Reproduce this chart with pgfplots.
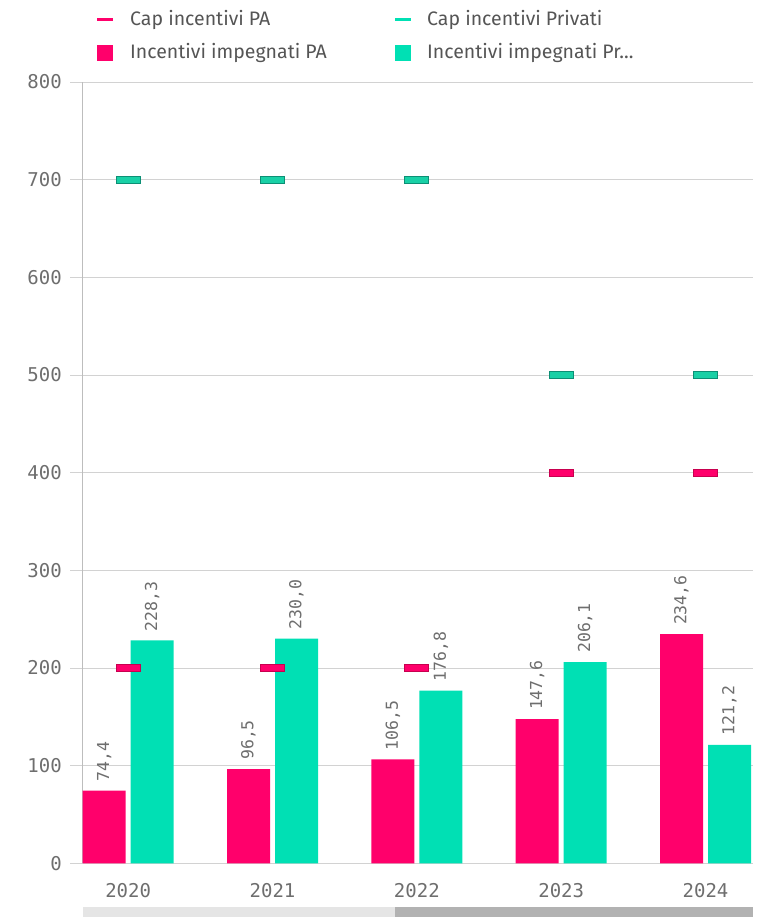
\documentclass[border=0pt]{standalone}
\usepackage{fontspec}
\usepackage{pgfplots}
\pgfplotsset{compat=1.18}
\usepackage{pgfplotstable}
\setmainfont{Fira Sans}
\newfontfamily\monof{DejaVu Sans Mono}

\definecolor{pa}{HTML}{FF006B}
\definecolor{pv}{HTML}{00E0B4}
\definecolor{paedge}{HTML}{C8004F}
\definecolor{pvedge}{HTML}{0C8F75}
\definecolor{capfillpv}{HTML}{19D0A6}
\definecolor{gridc}{HTML}{D2D2D2}
\definecolor{axisc}{HTML}{BDBDBD}
\definecolor{ticktext}{HTML}{6E6E6E}
\definecolor{legtext}{HTML}{555555}

% cap marker: short flat bar, 24 x 7 px
\pgfdeclareplotmark{cap}{%
  \pgfpathrectangle{\pgfpoint{-12bp}{-3.5bp}}{\pgfpoint{24bp}{7bp}}%
  \pgfusepathqfillstroke}

\pgfplotstableread{
x   pa    pv    palab  pvlab
0   74.4  228.3 74,4   228,3
1   96.5  230.0 96,5   230,0
2   106.5 176.8 106,5  176,8
3   147.6 206.1 147,6  206,1
4   234.6 121.2 234,6  121,2
}\impegnati

\pgfplotstableread{
x  capa  capv
0  200   700
1  200   700
2  200   700
3  400   500
4  400   500
}\caps

\pgfplotsset{barlab/.style={
  point meta=explicit symbolic,
  nodes near coords,
  every node near coord/.append style={xshift=#1, rotate=90, anchor=west,
    font=\monof\fontsize{16.5bp}{19bp}\selectfont, text=ticktext,
    inner xsep=9bp, inner ysep=0pt}}}

\begin{document}
\begin{tikzpicture}[x=1bp,y=1bp]
\path[use as bounding box] (0,0) rectangle (764,917);

\begin{axis}[
  at={(82bp,53.7bp)}, anchor=south west,
  scale only axis,
  width=671bp, height=781.3bp,
  xmin=-0.32, xmax=4.329,
  ymin=0, ymax=800,
  ytick={0,100,...,800},
  xtick={0,1,2,3,4},
  xticklabels={2020,2021,2022,2023,2024},
  axis x line*=bottom, axis y line*=left,
  x axis line style={draw=none},
  y axis line style={draw=axisc, line width=0.8bp},
  ymajorgrids,
  grid style={draw=gridc, line width=0.8bp},
  tick align=outside,
  major tick length=12bp,
  xtick style={draw=none},
  ytick style={draw=gridc, line width=0.8bp},
  /pgf/number format/assume math mode=true,
  ticklabel style={font=\monof\fontsize{19bp}{22bp}\selectfont, text=ticktext, inner sep=0pt},
  yticklabel style={xshift=-8bp},
  xticklabel style={yshift=-8bp},
  clip=false,
]

\addplot[ybar, bar width=43bp, bar shift=-24bp, fill=pa, draw=none, barlab=-24bp]
  table[x=x, y=pa, meta=palab] {\impegnati};

\addplot[ybar, bar width=43bp, bar shift=24bp, fill=pv, draw=none, barlab=24bp]
  table[x=x, y=pv, meta=pvlab] {\impegnati};

\addplot[only marks, mark=cap, mark options={fill=pa, draw=paedge, line width=0.8bp}]
  table[x=x, y=capa] {\caps};
\addplot[only marks, mark=cap, mark options={fill=capfillpv, draw=pvedge, line width=0.8bp}]
  table[x=x, y=capv] {\caps};

\end{axis}

% legend
\begin{scope}[font=\fontsize{19.5bp}{23bp}\selectfont]
  \fill[pa] (97,895.5) rectangle (113,898.5);
  \node[anchor=west, inner sep=0pt, text=legtext] at (130,897) {Cap incentivi PA};
  \fill[pv] (395,895.5) rectangle (411,898.5);
  \node[anchor=west, inner sep=0pt, text=legtext] at (427,897) {Cap incentivi Privati};
  \fill[pa] (97,856) rectangle (113,872);
  \node[anchor=west, inner sep=0pt, text=legtext] at (130,864) {Incentivi impegnati PA};
  \fill[pv] (395,856) rectangle (411,872);
  \node[anchor=west, inner sep=0pt, text=legtext] at (427,864) {Incentivi impegnati Pr...};
\end{scope}

% range slider under the plot
\fill[black!10] (83,0) rectangle (395,10);
\fill[black!30] (395,0) rectangle (753,10);
\end{tikzpicture}
\end{document}
